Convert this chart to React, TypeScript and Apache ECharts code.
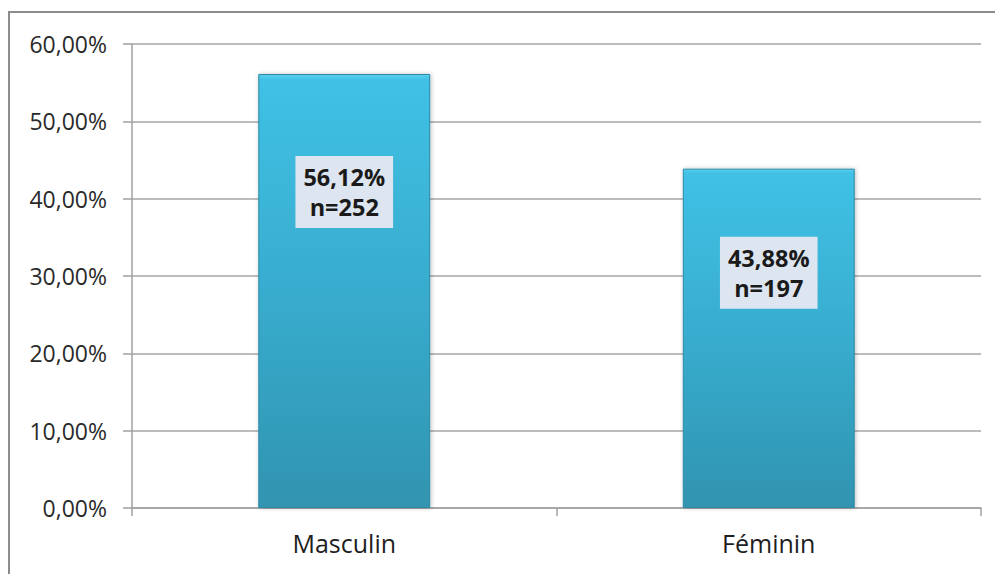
import React, { useEffect, useRef } from "react";
import * as echarts from "echarts";

// Répartition par sexe
const categories: string[] = ["Masculin", "Féminin"];
const percentages: number[] = [56.12, 43.88];
const counts: number[] = [252, 197];
const yTicks = { min: 0, max: 60, interval: 10 };

const FONT = "'Open Sans', 'Noto Sans', sans-serif";

const fmtPct = (v: number) => v.toFixed(2).replace(".", ",") + "%";

export default function App() {
  const ref = useRef<HTMLDivElement>(null);

  useEffect(() => {
    if (!ref.current) return;
    const chart = echarts.init(ref.current, null, { renderer: "svg" });

    // label box offset from the bar top, per bar
    const labelDistances = [82, 68];

    const barColor = new echarts.graphic.LinearGradient(0, 0, 0, 1, [
      { offset: 0, color: "#5ccfee" },
      { offset: 0.012, color: "#3fc1e5" },
      { offset: 0.5, color: "#38acce" },
      { offset: 1, color: "#3094b0" },
    ]);

    chart.setOption({
      animation: false,
      backgroundColor: "#ffffff",
      grid: { left: 132, right: 14, top: 44, bottom: 66, containLabel: false },
      graphic: [
        {
          type: "rect",
          shape: { x: 9, y: 12, width: 1200, height: 800 },
          style: { fill: "none", stroke: "#8c8c8c", lineWidth: 2 },
          silent: true,
          z: 100,
        },
      ],
      xAxis: {
        type: "category",
        data: categories,
        axisLine: { show: true, lineStyle: { color: "#a0a0a0", width: 1.5 } },
        axisTick: { show: true, length: 8, lineStyle: { color: "#a0a0a0", width: 1.5 } },
        axisLabel: {
          margin: 22,
          fontFamily: FONT,
          fontSize: 25,
          color: "#1e1e1e",
        },
        splitLine: { show: false },
      },
      yAxis: {
        type: "value",
        min: yTicks.min,
        max: yTicks.max,
        interval: yTicks.interval,
        axisLine: { show: true, lineStyle: { color: "#a0a0a0", width: 1.5 } },
        axisTick: { show: true, length: 9, lineStyle: { color: "#a0a0a0", width: 1.5 } },
        axisLabel: {
          margin: 25,
          fontFamily: FONT,
          fontSize: 23,
          color: "#2a2a2a",
          formatter: (v: number) => fmtPct(v),
        },
        splitLine: { show: true, lineStyle: { color: "#a6a6a6", width: 1.5 } },
      },
      series: [
        {
          type: "bar",
          barWidth: "40.5%",
          itemStyle: {
            color: barColor,
            borderColor: "#2b8aa6",
            borderWidth: 1,
            shadowColor: "rgba(0,0,0,0.25)",
            shadowBlur: 4,
            shadowOffsetX: 1,
          },
          data: percentages.map((v, i) => ({
            value: v,
            label: {
              show: true,
              position: "insideTop",
              distance: labelDistances[i],
              formatter: () => fmtPct(v) + "\nn=" + counts[i],
              fontFamily: FONT,
              fontWeight: "bold",
              fontSize: 23.5,
              lineHeight: 30,
              color: "#1a1a1a",
              backgroundColor: "#dde6f0",
              padding: [6, 8, 6, 8],
              align: "center",
            },
          })),
        },
      ],
    });

    return () => chart.dispose();
  }, []);

  return (
    <div
      ref={ref}
      style={{ position: "fixed", left: 0, top: 0, width: 995, height: 574 }}
    />
  );
}
